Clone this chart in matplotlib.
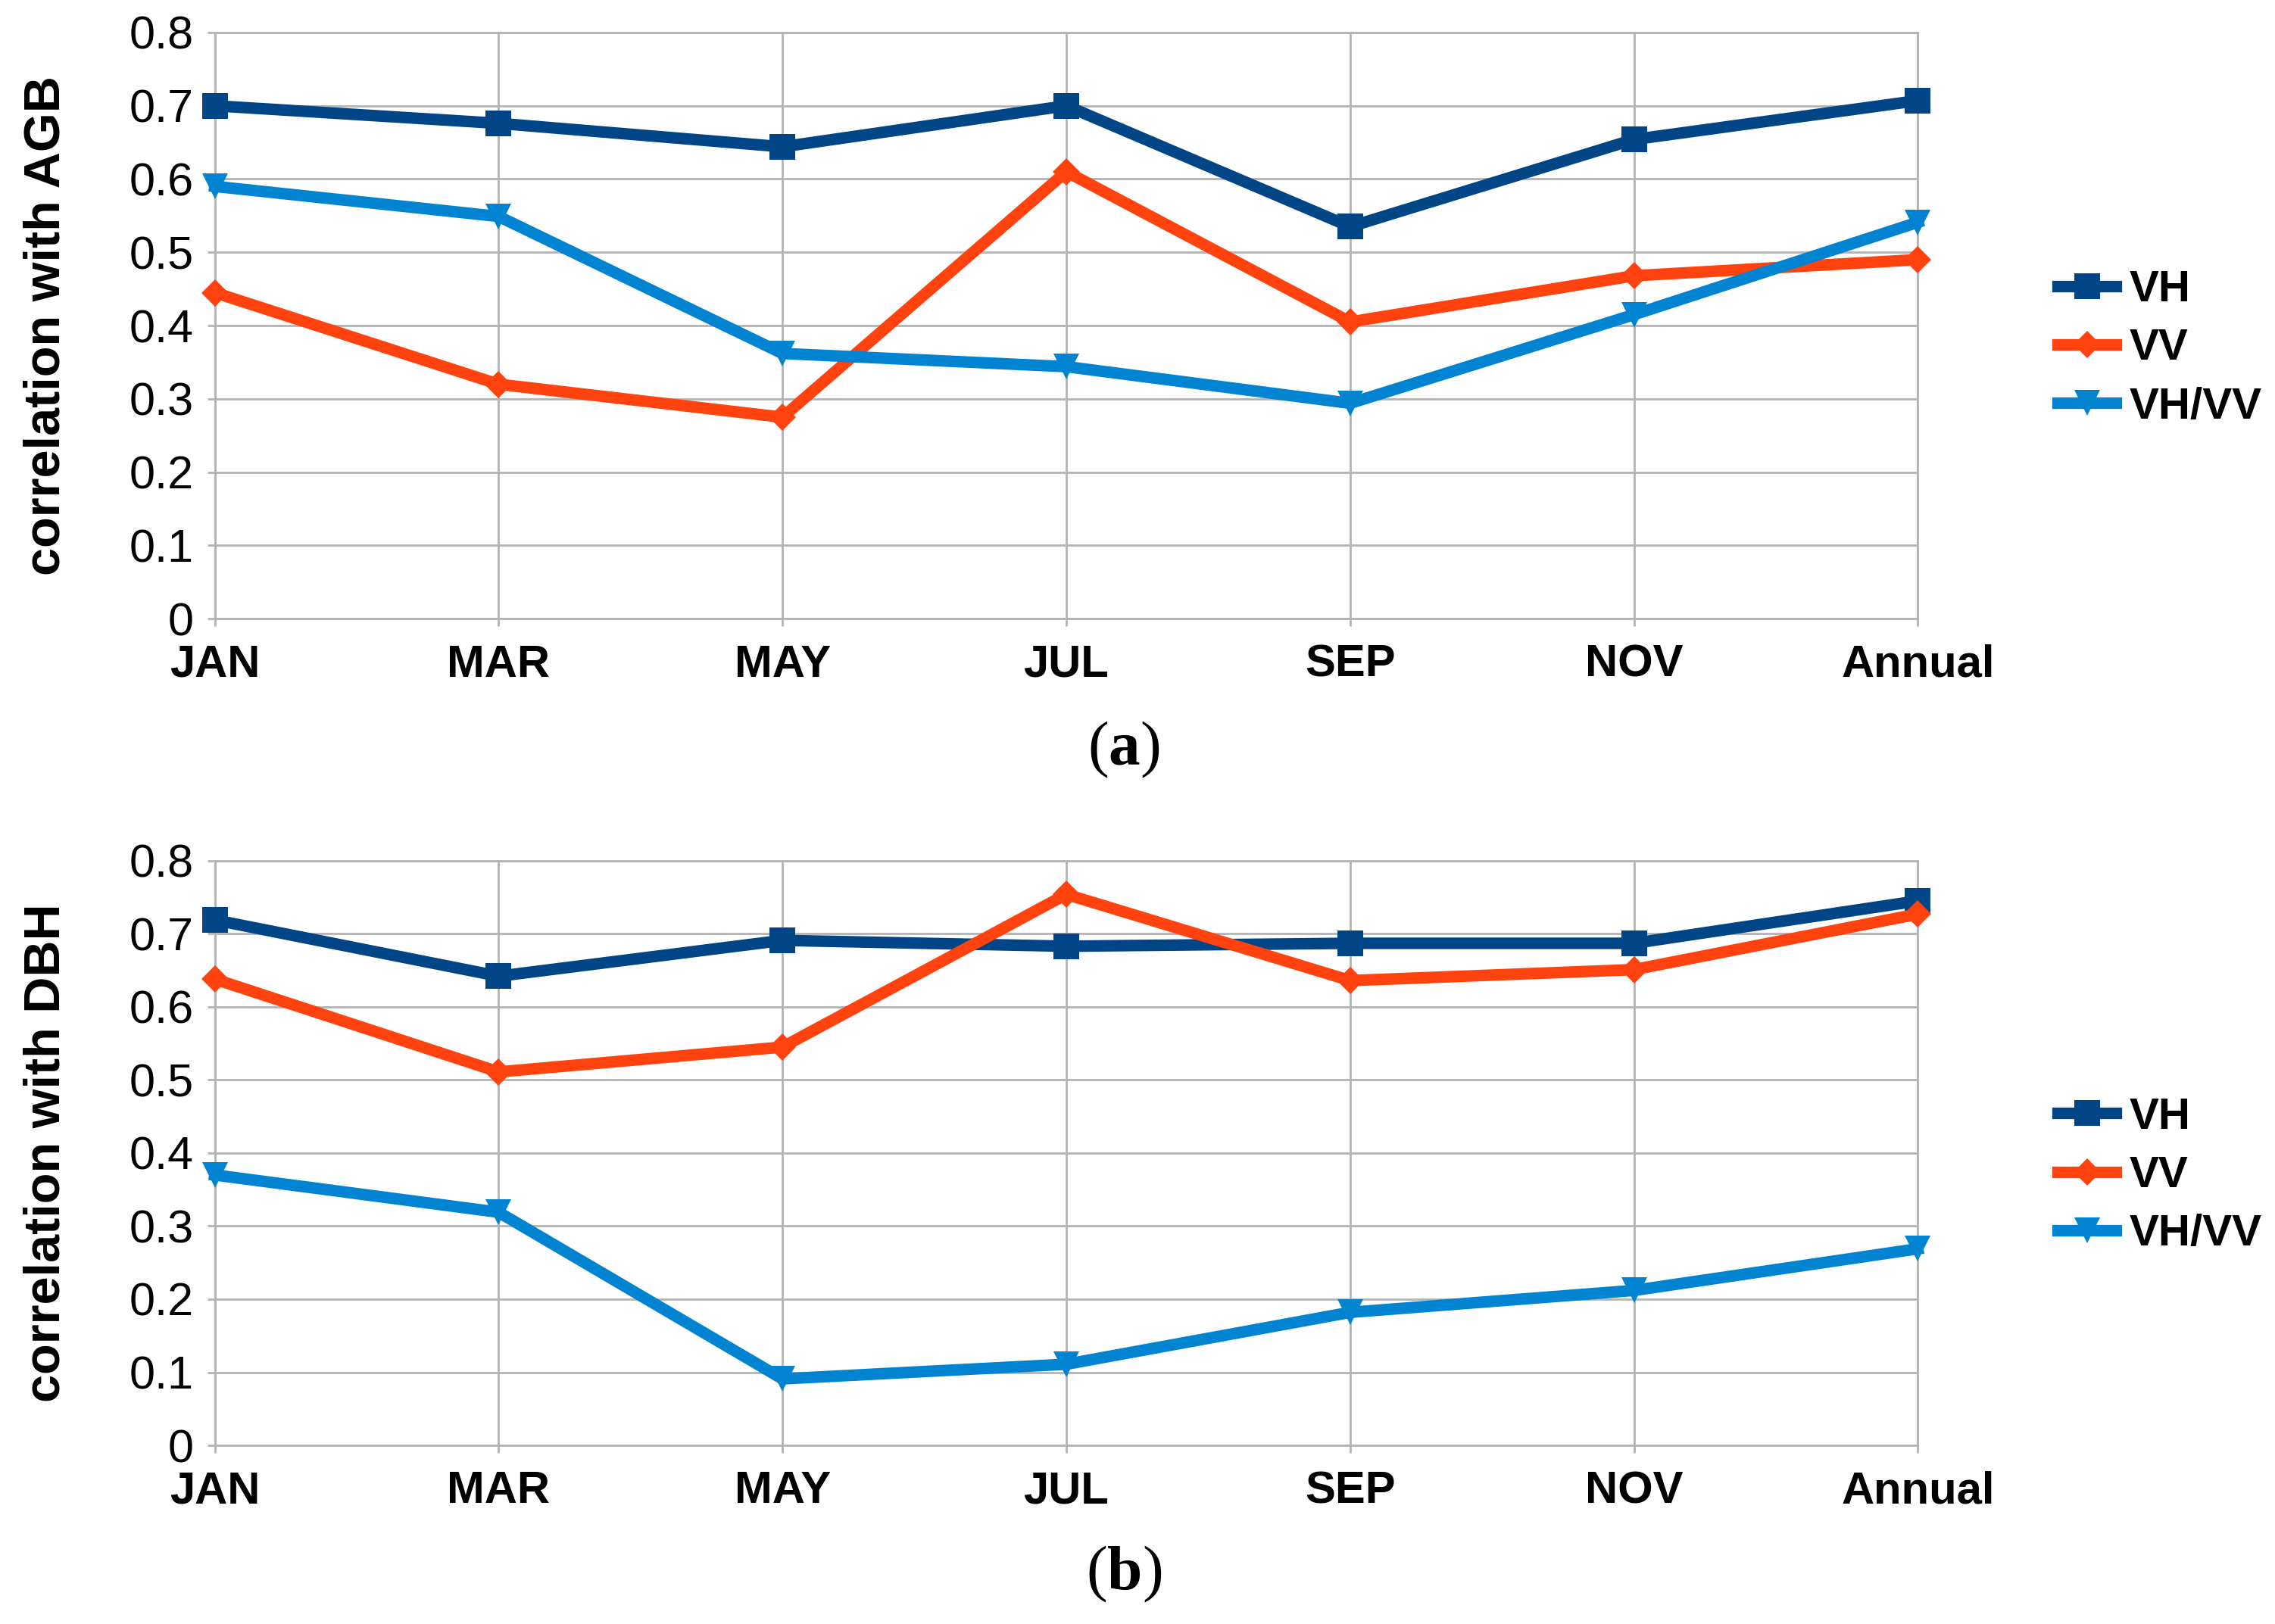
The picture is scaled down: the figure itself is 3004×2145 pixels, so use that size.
import matplotlib.pyplot as plt

# categories
months = ['JAN', 'MAR', 'MAY', 'JUL', 'SEP', 'NOV', 'Annual']

# (a) correlation with AGB
agb_vh = [0.70, 0.676, 0.644, 0.70, 0.535, 0.654, 0.707]
agb_vv = [0.445, 0.32, 0.275, 0.61, 0.405, 0.468, 0.49]
agb_ratio = [0.59, 0.549, 0.362, 0.344, 0.294, 0.415, 0.541]

# (b) correlation with DBH
dbh_vh = [0.719, 0.642, 0.691, 0.683, 0.687, 0.687, 0.745]
dbh_vv = [0.638, 0.511, 0.545, 0.754, 0.636, 0.651, 0.727]
dbh_ratio = [0.37, 0.319, 0.091, 0.111, 0.182, 0.212, 0.269]

series_names = ['VH', 'VV', 'VH/VV']
colors = ['#004586', '#ff420e', '#0084d1']
markers = ['s', 'D', 'v']
msizes = [24, 18, 25]

plt.rcParams['font.family'] = ['Liberation Sans', 'DejaVu Sans']
plt.rcParams['mathtext.fontset'] = 'custom'
plt.rcParams['mathtext.rm'] = 'Liberation Serif'
plt.rcParams['mathtext.bf'] = 'Liberation Serif:bold'

fig = plt.figure(figsize=(30.04, 21.45), dpi=100)
ax_a = fig.add_axes([0.0944, 0.619, 0.7486, 0.361])
ax_b = fig.add_axes([0.0944, 0.110, 0.7486, 0.360])

panels = [
    (ax_a, [agb_vh, agb_vv, agb_ratio], 'correlation with AGB', r'$\mathrm{(}\mathbf{a}\mathrm{)}$', 0.5385),
    (ax_b, [dbh_vh, dbh_vv, dbh_ratio], 'correlation with DBH', r'$\mathrm{(}\mathbf{b}\mathrm{)}$', 0.0307),
]

x = list(range(len(months)))
for ax, data, ylab, cap, cap_y in panels:
    for vals, name, c, m, ms in zip(data, series_names, colors, markers, msizes):
        ax.plot(x, vals, color=c, lw=11, marker=m, markersize=ms,
                markeredgewidth=0, label=name, zorder=3, clip_on=False)
    ax.set_xlim(0, 6)
    ax.set_ylim(0, 0.8)
    ax.set_yticks([0, 0.1, 0.2, 0.3, 0.4, 0.5, 0.6, 0.7, 0.8])
    ax.set_yticklabels(['0', '0.1', '0.2', '0.3', '0.4', '0.5', '0.6', '0.7', '0.8'])
    ax.set_xticks(x)
    ax.set_xticklabels(months, fontweight='bold', fontsize=43)
    ax.grid(True, color='#b3b3b3', lw=2)
    ax.set_axisbelow(True)
    for s in ax.spines.values():
        s.set_color('#b3b3b3')
        s.set_linewidth(2)
    ax.tick_params(axis='y', labelsize=44, length=7, width=2, color='#b3b3b3', pad=13)
    ax.tick_params(axis='x', length=7, width=2, color='#b3b3b3', pad=17)
    ax.set_ylabel(ylab, fontsize=48, fontweight='bold', labelpad=56)
    ax.legend(loc='center left', bbox_to_anchor=(1.082, 0.461), frameon=False,
              prop={'weight': 'bold', 'size': 42}, handlelength=1.33,
              handletextpad=0.3, labelspacing=0.4, borderaxespad=0, borderpad=0)
    fig.text(0.494, cap_y, cap, fontsize=60, ha='center', va='center')

fig.savefig('out.png', dpi=100)
